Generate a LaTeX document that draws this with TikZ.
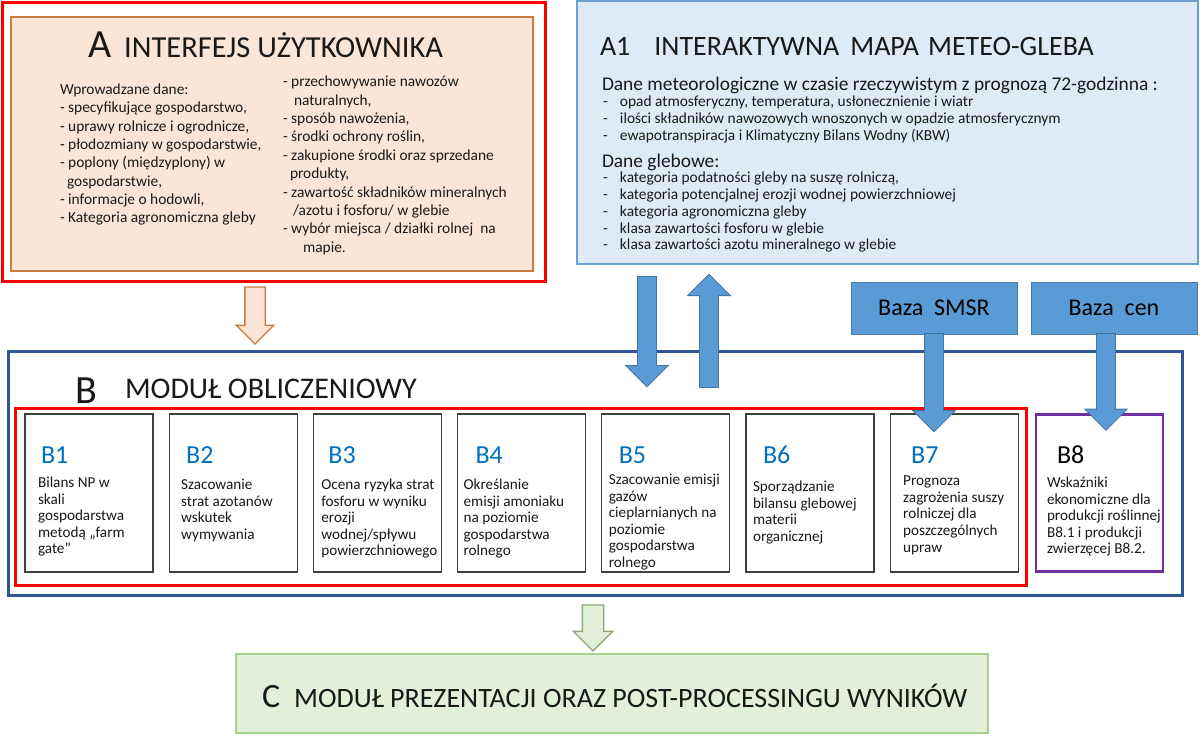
\documentclass[tikz,border=0pt]{standalone}
\usepackage{fontspec}
\setmainfont{Carlito}
\usetikzlibrary{arrows.meta,shapes.arrows}
\definecolor{peach}{HTML}{FBE5D6}
\definecolor{rust}{HTML}{C97A45}
\definecolor{skyfill}{HTML}{DEEBF7}
\definecolor{skyline}{HTML}{6A9FD4}
\definecolor{bazablue}{HTML}{5B9BD5}
\definecolor{navy}{HTML}{2F5597}
\definecolor{labblue}{HTML}{0070C0}
\definecolor{violet2}{HTML}{7030A0}
\definecolor{mint}{HTML}{E2F0D9}
\definecolor{mintline}{HTML}{A9D18E}
\newcommand\fs[2]{\fontsize{#1}{#2}\selectfont}
\begin{document}
\begin{tikzpicture}[x=1pt, y=-1pt,
  every node/.style={inner sep=0pt, outer sep=0pt},
  box/.style 2 args={minimum width=#1, minimum height=#2},
  redframe/.style={draw=red, line width=3pt},
  txt/.style={anchor=base west, align=left, text=black!90},
  par/.style={anchor=north west, align=left, text=black!90},
  bbox/.style={draw=black!75, line width=1.3pt, box={128}{158}},
  blab/.style={anchor=base west, text=labblue, font=\fs{26}{30}},
  bdesc/.style={par, font=\fs{15.2}{16.6}},
  baza/.style={fill=bazablue, draw=bazablue!80!black, line width=0.8pt, box={166}{52}, font=\fs{24}{28}},
  bluearr/.style={draw=bazablue, line width=18pt, -{Triangle[length=20pt, width=40pt, line width=0pt]},
    preaction={draw=bazablue!75!black, line width=20pt, shorten >=-1.4pt, shorten <=-1pt,
      -{Triangle[length=22.4pt, width=44.8pt, line width=0pt]}}},
  hollow/.style={single arrow, shape border rotate=270, anchor=tail, inner ysep=0pt, inner xsep=9.5pt,
    single arrow head extend=8.5pt, line width=1.3pt},
]
\useasboundingbox (0,0) rectangle (1200,744);

% A
\node[redframe, box={543}{279}] (aframe) at (273.5,141.5) {};
\node[fill=peach, draw=rust, line width=1.3pt, box={522}{254}] (apanel) at (272,144) {};
\node[txt, font=\fs{40}{44}] (atitle) at (88,57) {A\hspace{13pt}\fs{30.5}{34}INTERFEJS UŻYTKOWNIKA};
\node[par, font=\fs{15.4}{18.3}] (ainput) at (60,84) {Wprowadzane dane:\\- specyfikujące gospodarstwo,\\- uprawy rolnicze i ogrodnicze,\\- płodozmiany w gospodarstwie,\\- poplony (międzyplony) w\\\hspace{7pt}gospodarstwie,\\- informacje o hodowli,\\- Kategoria agronomiczna gleby};
\node[par, font=\fs{15.4}{18.4}] (ainput2) at (283,76) {- przechowywanie nawozów\\\hspace{11pt}naturalnych,\\- sposób nawożenia,\\- środki ochrony roślin,\\- zakupione środki oraz sprzedane\\\hspace{7pt}produkty,\\- zawartość składników mineralnych\\\hspace{10pt}/azotu i fosforu/ w glebie\\- wybór miejsca / działki rolnej\ \ na\\\hspace{20pt}mapie.};

% A1
\node[fill=skyfill, draw=skyline, line width=1.5pt, box={621}{263}] (a1panel) at (887.5,132.5) {};
\node[txt, font=\fs{28}{32}] (a1title) at (600,55) {A1\hspace{24pt}INTERAKTYWNA\hspace{11pt}MAPA\hspace{9pt}METEO-GLEBA};
\node[txt, font=\fs{19.4}{22}] (meteohead) at (602,90) {Dane meteorologiczne w czasie rzeczywistym z prognozą 72-godzinna :};
\node[par, font=\fs{15.4}{17}] (meteo) at (603,96) {\makebox[17pt][l]{-}opad atmosferyczny, temperatura, usłonecznienie i wiatr\\\makebox[17pt][l]{-}ilości składników nawozowych wnoszonych w opadzie atmosferycznym\\\makebox[17pt][l]{-}ewapotranspiracja i Klimatyczny Bilans Wodny (KBW)};
\node[txt, font=\fs{19.4}{22}] (soilhead) at (602,167) {Dane glebowe:};
\node[par, font=\fs{15.4}{16.8}] (soil) at (603,172) {\makebox[17pt][l]{-}kategoria podatności gleby na suszę rolniczą,\\\makebox[17pt][l]{-}kategoria potencjalnej erozji wodnej powierzchniowej\\\makebox[17pt][l]{-}kategoria agronomiczna gleby\\\makebox[17pt][l]{-}klasa zawartości fosforu w glebie\\\makebox[17pt][l]{-}klasa zawartości azotu mineralnego w glebie};

\node[hollow, fill=peach, draw=rust, minimum height=57pt] (aarrow) at (255,287) {};

% B
\node[draw=navy, line width=3pt, box={1174}{244}] (bframe) at (595,473) {};
\node[txt, font=\fs{40}{44}] (btitle) at (75,403) {B};
\node[txt, font=\fs{30}{34}] (bname) at (125,398) {MODUŁ OBLICZENIOWY};
\node[redframe, box={1011}{177}] (bred) at (520.5,496.5) {};
\foreach \i/\lx/\tx/\ty/\desc in {
  1/16/13/477/{Bilans NP w\\skali\\gospodarstwa\\metodą „farm\\gate”},
  2/17/12/479/{Szacowanie\\strat azotanów\\wskutek\\wymywania},
  3/15/8/479/{Ocena ryzyka strat\\fosforu w wyniku\\erozji\\wodnej/spływu\\powierzchniowego},
  4/18/6/479/{Określanie\\emisji amoniaku\\na poziomie\\gospodarstwa\\rolnego},
  5/17/7/474/{Szacowanie emisji\\gazów\\cieplarnianych na\\poziomie\\gospodarstwa\\rolnego},
  6/17/7/481/{Sporządzanie\\bilansu glebowej\\materii\\organicznej},
  7/21/13/476/{Prognoza\\zagrożenia suszy\\rolniczej dla\\poszczególnych\\upraw}}
{
  \node[bbox] (b\i) at ({89+144.2*(\i-1)},493) {};
  \node[blab] (l\i) at ({25+144.2*(\i-1)+\lx},463) {B\i};
  \node[bdesc] (d\i) at ({25+144.2*(\i-1)+\tx},\ty) {\desc};
}
\node[draw=violet2, line width=2.5pt, box={127}{157}] (b8) at (1099.5,493) {};
\node[blab, text=black] (l8) at (1057,463) {B8};
\node[bdesc] (d8) at (1047,477) {Wskaźniki\\ekonomiczne dla\\produkcji roślinnej\\B8.1 i produkcji\\zwierzęcej B8.2.};

% bazy
\node[baza] (smsr) at (934,308) {Baza\ \ SMSR};
\node[baza] (cen) at (1114,308) {Baza\ \ cen};
\path (smsr.south |- b7.north) ++(0,17) coordinate (smsrtip);
\draw[bluearr] (smsr.south) -- (smsrtip);
\coordinate (centail) at ([xshift=-8pt]cen.south);
\path (centail |- b8.north) ++(0,15) coordinate (centip);
\draw[bluearr] (centail) -- (centip);

\coordinate (dntail) at (647,277);
\coordinate (dntip) at (647,386);
\coordinate (uptail) at (709,387);
\coordinate (uptip) at (709,275);
\draw[bluearr] (dntail) -- (dntip);
\draw[bluearr] (uptail) -- (uptip);

% C
\node[hollow, fill=mint, draw=mintline!80!black, inner xsep=10pt, single arrow head extend=9pt, minimum height=46pt] (carrow) at (593,605) {};
\node[fill=mint, draw=mintline, line width=1.3pt, box={752}{79}] (cpanel) at (612,693.5) {};
\node[txt, font=\fs{34}{38}] (ctitle) at (262,707) {C\hspace{14pt}\fs{28}{32}MODUŁ PREZENTACJI ORAZ POST-PROCESSINGU WYNIKÓW};
\end{tikzpicture}
\end{document}
